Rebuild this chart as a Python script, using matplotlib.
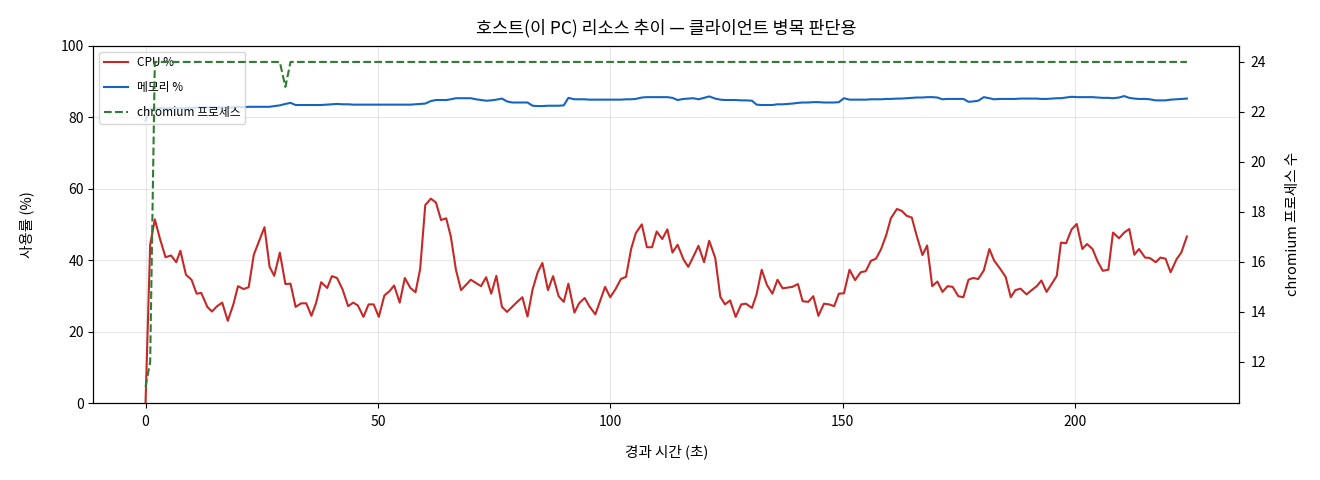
import matplotlib
matplotlib.use("Agg")
import matplotlib.pyplot as plt

plt.rcParams['font.family'] = ['Noto Sans CJK KR', 'DejaVu Sans']
plt.rcParams['axes.unicode_minus'] = False

time_s = [0.0, 1.0, 2.0, 3.1, 4.3, 5.5, 6.6, 7.5, 8.7, 9.9,
          11.0, 12.0, 13.3, 14.3, 15.4, 16.5, 17.7, 18.9, 19.9, 21.1,
          22.2, 23.3, 24.4, 25.6, 26.7, 27.7, 28.9, 30.1, 31.2, 32.3,
          33.5, 34.6, 35.7, 36.7, 37.8, 39.1, 40.1, 41.2, 42.4, 43.6,
          44.7, 45.7, 46.9, 48.0, 49.1, 50.2, 51.4, 52.5, 53.5, 54.7,
          55.8, 57.0, 58.1, 59.1, 60.2, 61.4, 62.5, 63.6, 64.7, 65.7,
          66.8, 67.9, 69.0, 70.0, 71.1, 72.2, 73.3, 74.4, 75.5, 76.7,
          77.8, 78.9, 79.9, 81.1, 82.2, 83.3, 84.4, 85.4, 86.6, 87.7,
          88.9, 90.0, 91.0, 92.3, 93.3, 94.5, 95.5, 96.8, 97.8, 98.9,
          100.0, 101.2, 102.3, 103.4, 104.5, 105.5, 106.8, 107.9, 109.0, 110.0,
          111.2, 112.3, 113.4, 114.5, 115.8, 116.8, 117.9, 119.0, 120.2, 121.3,
          122.6, 123.7, 124.7, 125.8, 127.0, 128.2, 129.2, 130.5, 131.5, 132.6,
          133.7, 134.9, 136.0, 137.1, 138.1, 139.2, 140.4, 141.4, 142.6, 143.7,
          144.8, 146.0, 147.1, 148.2, 149.2, 150.3, 151.5, 152.7, 153.9, 155.0,
          156.1, 157.2, 158.3, 159.4, 160.4, 161.7, 162.7, 163.8, 164.9, 166.0,
          167.2, 168.2, 169.3, 170.4, 171.5, 172.6, 173.7, 174.9, 176.0, 177.1,
          178.1, 179.2, 180.4, 181.6, 182.6, 183.9, 185.1, 186.2, 187.2, 188.3,
          189.6, 190.7, 191.8, 192.8, 193.9, 195.0, 196.1, 197.0, 198.1, 199.3,
          200.4, 201.6, 202.6, 203.8, 204.9, 206.0, 207.2, 208.2, 209.5, 210.6,
          211.7, 212.8, 213.8, 215.1, 216.1, 217.4, 218.4, 219.5, 220.6, 221.9,
          222.9, 224.1]

cpu_pct = [0.0, 44.3, 51.4, 46.0, 40.8, 41.3, 39.4, 42.6, 35.9, 34.5,
           30.6, 30.8, 26.9, 25.6, 27.1, 28.1, 23.0, 27.6, 32.7, 31.9,
           32.4, 41.5, 45.2, 49.2, 38.1, 35.6, 42.1, 33.3, 33.4, 26.9,
           27.9, 27.9, 24.4, 28.0, 33.8, 32.2, 35.5, 35.0, 31.8, 27.1,
           28.1, 27.3, 24.1, 27.6, 27.6, 24.1, 30.1, 31.3, 32.9, 28.1,
           35.0, 32.2, 31.0, 37.5, 55.4, 57.2, 56.1, 51.2, 51.7, 46.6,
           37.3, 31.6, 33.1, 34.5, 33.6, 32.7, 35.2, 30.6, 35.6, 26.9,
           25.5, 26.9, 28.2, 29.6, 24.2, 31.8, 36.6, 39.2, 31.6, 35.5,
           29.9, 28.3, 33.4, 25.3, 27.9, 29.4, 27.1, 24.8, 28.5, 32.5,
           29.6, 32.0, 34.7, 35.3, 43.1, 47.5, 50.0, 43.6, 43.6, 48.0,
           45.9, 48.6, 42.1, 44.3, 40.1, 38.1, 41.0, 44.0, 39.4, 45.4,
           40.6, 29.7, 27.6, 28.7, 24.1, 27.6, 27.8, 26.6, 30.4, 37.3,
           33.1, 30.6, 34.5, 32.1, 32.3, 32.5, 33.3, 28.5, 28.3, 29.9,
           24.4, 27.8, 27.6, 27.1, 30.6, 30.7, 37.3, 34.4, 36.6, 36.9,
           39.8, 40.4, 43.1, 47.0, 51.7, 54.3, 53.8, 52.4, 51.9, 46.6,
           41.4, 44.1, 32.7, 34.0, 31.1, 32.7, 32.5, 29.9, 29.6, 34.5,
           35.0, 34.7, 37.1, 43.1, 39.9, 37.6, 35.3, 29.6, 31.6, 32.0,
           30.4, 31.6, 32.7, 34.3, 31.1, 33.3, 35.6, 44.9, 44.7, 48.6,
           50.1, 43.1, 44.5, 43.1, 39.6, 37.0, 37.3, 47.7, 46.1, 47.7,
           48.7, 41.5, 43.1, 40.7, 40.6, 39.4, 40.7, 40.4, 36.6, 40.3,
           42.1, 46.6]

mem_pct = [79.0, 82.3, 82.4, 82.5, 82.5, 82.5, 82.5, 82.5, 82.5, 82.6,
           82.7, 82.7, 82.7, 82.7, 82.7, 82.7, 82.7, 82.7, 82.8, 82.8,
           82.9, 82.9, 82.9, 82.9, 82.9, 83.1, 83.3, 83.7, 84.0, 83.4,
           83.4, 83.4, 83.4, 83.4, 83.4, 83.5, 83.6, 83.7, 83.6, 83.6,
           83.5, 83.5, 83.5, 83.5, 83.5, 83.5, 83.5, 83.5, 83.5, 83.5,
           83.5, 83.5, 83.6, 83.7, 83.8, 84.5, 84.8, 84.8, 84.8, 85.0,
           85.3, 85.3, 85.3, 85.3, 85.0, 84.8, 84.6, 84.7, 84.9, 85.2,
           84.4, 84.1, 84.1, 84.1, 84.1, 83.2, 83.1, 83.1, 83.2, 83.2,
           83.2, 83.3, 85.4, 85.0, 85.0, 85.0, 84.9, 84.9, 84.9, 84.9,
           84.9, 84.9, 84.9, 85.0, 85.0, 85.1, 85.5, 85.6, 85.6, 85.6,
           85.6, 85.6, 85.4, 84.8, 85.1, 85.2, 85.3, 85.0, 85.4, 85.8,
           85.2, 84.9, 84.8, 84.8, 84.8, 84.7, 84.7, 84.6, 83.5, 83.4,
           83.4, 83.4, 83.6, 83.6, 83.7, 83.8, 84.0, 84.1, 84.1, 84.2,
           84.2, 84.1, 84.1, 84.1, 84.2, 85.3, 84.9, 84.9, 84.9, 84.9,
           85.0, 85.0, 85.0, 85.1, 85.1, 85.2, 85.2, 85.3, 85.4, 85.5,
           85.5, 85.6, 85.6, 85.5, 85.0, 85.1, 85.1, 85.1, 85.1, 84.3,
           84.4, 84.6, 85.6, 85.3, 85.0, 85.1, 85.1, 85.1, 85.1, 85.2,
           85.2, 85.2, 85.2, 85.1, 85.1, 85.2, 85.3, 85.3, 85.5, 85.7,
           85.6, 85.6, 85.6, 85.6, 85.5, 85.4, 85.4, 85.3, 85.5, 85.9,
           85.4, 85.2, 85.1, 85.1, 85.0, 84.7, 84.7, 84.7, 84.9, 85.0,
           85.1, 85.2]

chromium_procs = [11, 12] + [24] * 25 + [23] + [24] * (len(time_s) - 28)

fig = plt.figure(figsize=(13.2, 4.8), dpi=100)
ax = fig.add_axes([0.0708, 0.1604, 0.8678, 0.7444])
ax2 = ax.twinx()

l1, = ax.plot(time_s, cpu_pct, color='#c62828', lw=1.5, label='CPU %')
l2, = ax.plot(time_s, mem_pct, color='#1565c0', lw=1.5, label='메모리 %')
l3, = ax2.plot(time_s, chromium_procs, color='#2e7d32', lw=1.5, ls='--',
               label='chromium 프로세스')

ax.set_ylim(0, 100)
ax.set_xlabel('경과 시간 (초)', fontsize=10.5, labelpad=11)
ax.set_ylabel('사용률 (%)', fontsize=10.5, labelpad=19)
ax2.set_ylabel('chromium 프로세스 수', fontsize=10.5, labelpad=14)
ax.set_title('호스트(이 PC) 리소스 추이 — 클라이언트 병목 판단용', fontsize=12.5, pad=9)
ax.grid(True, alpha=0.3)
ax.tick_params(labelsize=10)
ax.tick_params(axis='x', pad=5)
ax2.tick_params(labelsize=10, pad=5)

ax.legend([l1, l2, l3], [l1.get_label(), l2.get_label(), l3.get_label()],
          loc='upper left', fontsize=8.5, labelspacing=1.0)

fig.savefig('out.png', dpi=100)
